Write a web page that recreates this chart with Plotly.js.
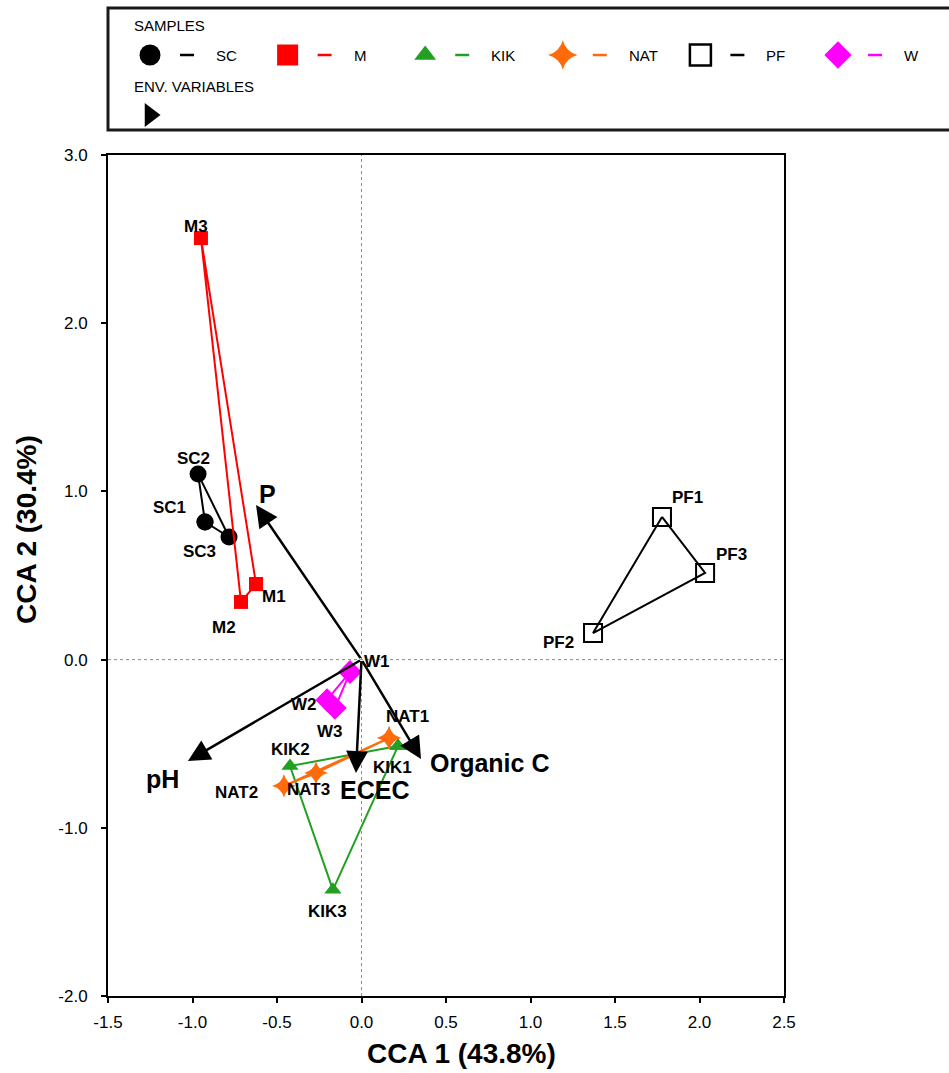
<!DOCTYPE html>
<html>
<head>
<meta charset="utf-8">
<script src="https://cdn.plot.ly/plotly-3.0.1.min.js"></script>
<style>
  html, body { margin: 0; padding: 0; background: #ffffff; }
  #chart { width: 949px; height: 1073px; }
</style>
</head>
<body>
<div id="chart"></div>
<script>
// ---- Sample scores on CCA axes 1 and 2 ----
const scLabels  = ['SC1', 'SC2', 'SC3'];
const scX       = [-0.926, -0.967, -0.784];
const scY       = [0.818, 1.103, 0.729];

const mLabels   = ['M1', 'M2', 'M3'];
const mX        = [-0.624, -0.713, -0.950];
const mY        = [0.449, 0.343, 2.506];

const kikLabels = ['KIK1', 'KIK2', 'KIK3'];
const kikX      = [0.216, -0.423, -0.169];
const kikY      = [-0.514, -0.633, -1.369];

const natLabels = ['NAT1', 'NAT2', 'NAT3'];
const natX      = [0.163, -0.459, -0.269];
const natY      = [-0.466, -0.751, -0.674];

const pfLabels  = ['PF1', 'PF2', 'PF3'];
const pfX       = [1.778, 1.370, 2.033];
const pfY       = [0.848, 0.158, 0.515];

const wLabels   = ['W1', 'W2', 'W3'];
const wX        = [-0.068, -0.204, -0.157];
const wY        = [-0.074, -0.240, -0.288];

// ---- Environmental variable vectors (from the origin) ----
const envNames  = ['P', 'pH', 'ECEC', 'Organic C'];
const envX      = [-0.624, -1.027, -0.033, 0.352];
const envY      = [0.919, -0.603, -0.674, -0.591];

// ---- Axis labels and ticks ----
const xTitle = 'CCA 1 (43.8%)';
const yTitle = 'CCA 2 (30.4%)';
const xTickVals = [-1.5, -1.0, -0.5, 0.0, 0.5, 1.0, 1.5, 2.0, 2.5];
const xTickText = ['-1.5', '-1.0', '-0.5', '0.0', '0.5', '1.0', '1.5', '2.0', '2.5'];
const yTickVals = [-2.0, -1.0, 0.0, 1.0, 2.0, 3.0];
const yTickText = ['-2.0', '-1.0', '0.0', '1.0', '2.0', '3.0'];
const groupNames = ['SC', 'M', 'KIK', 'NAT', 'PF', 'W'];

// ---- Styling ----
const FONT = 'Arial, "Liberation Sans", sans-serif';
const W = 949, H = 1073;
const plotBox = { left: 108, right: 784, top: 155, bottom: 996 };

const groups = [
  { name: 'SC',  lab: scLabels,  x: scX,  y: scY,  color: '#000000', symbol: 'circle',       size: 17, legSize: 21 },
  { name: 'M',   lab: mLabels,   x: mX,   y: mY,   color: '#ff0000', symbol: 'square',       size: 14, legSize: 21 },
  { name: 'KIK', lab: kikLabels, x: kikX, y: kikY, color: '#22a022', symbol: 'triangle-up',  size: 15, legSize: 19 },
  { name: 'NAT', lab: natLabels, x: natX, y: natY, color: '#ff6a0a', symbol: 'star-diamond', size: 17, legSize: 21 },
  { name: 'PF',  lab: pfLabels,  x: pfX,  y: pfY,  color: '#000000', symbol: 'square-open',  size: 18, legSize: 21 },
  { name: 'W',   lab: wLabels,   x: wX,   y: wY,   color: '#ff00ff', symbol: 'diamond',      size: 18, legSize: 21 }
];

// label placement (pixel shifts from each point)
const labelShift = {
  SC1: [-36, 15], SC2: [-5, 16], SC3: [-30, -15],
  M1: [18, -12], M2: [-17, -26], M3: [-5, 12],
  KIK1: [-6, -21], KIK2: [0, 17], KIK3: [-5, -22],
  NAT1: [18, 21], NAT2: [-47, -7], NAT3: [-8, -17],
  PF1: [26, 19], PF2: [-35, -9], PF3: [26, 18],
  W1: [27, 11], W2: [-23, -5], W3: [-5, -23]
};
const envShift = { 'P': [11, 11], 'pH': [-25, -18], 'ECEC': [19, -17], 'Organic C': [69, -4] };

const traces = [];
const annotations = [];
const shapes = [];

// closed polygons joining the three replicates of each site
groups.forEach(g => {
  const isOpen = g.symbol.endsWith('-open');
  traces.push({
    type: 'scatter', mode: 'lines+markers', name: g.name,
    x: g.x.concat([g.x[0]]), y: g.y.concat([g.y[0]]),
    xaxis: 'x', yaxis: 'y',
    line: { color: g.color, width: 2 },
    marker: {
      symbol: g.symbol, size: g.size, color: g.color, opacity: 1,
      line: { color: g.color, width: isOpen ? 2 : 0 }
    },
    hoverinfo: 'skip', cliponaxis: false
  });
  g.lab.forEach((t, i) => {
    const s = labelShift[t] || [0, 0];
    annotations.push({
      xref: 'x', yref: 'y', x: g.x[i], y: g.y[i], text: t, showarrow: false,
      xshift: s[0], yshift: s[1],
      font: { family: FONT, size: 17, color: '#000000', weight: 'bold' }
    });
  });
});

// environmental arrows
envNames.forEach((n, i) => {
  annotations.push({
    xref: 'x', yref: 'y', axref: 'x', ayref: 'y',
    x: envX[i], y: envY[i], ax: 0, ay: 0, text: '',
    showarrow: true, arrowhead: 2, arrowsize: 1.75, arrowwidth: 2.5,
    arrowcolor: '#000000', standoff: 0, startstandoff: 0
  });
  const s = envShift[n];
  annotations.push({
    xref: 'x', yref: 'y', x: envX[i], y: envY[i], text: n, showarrow: false,
    xshift: s[0], yshift: s[1],
    font: { family: FONT, size: 25, color: '#000000', weight: 'bold' }
  });
});

// dotted reference lines through the origin
shapes.push({ type: 'line', xref: 'x', yref: 'y', x0: 0, x1: 0, y0: -2, y1: 3,
  line: { color: '#8c8c8c', width: 1, dash: 'dot' }, layer: 'below' });
shapes.push({ type: 'line', xref: 'x', yref: 'y', x0: -1.5, x1: 2.5, y0: 0, y1: 0,
  line: { color: '#8c8c8c', width: 1, dash: 'dot' }, layer: 'below' });

// ---- Key box above the plot (drawn on a pixel-scaled helper axis pair) ----
shapes.push({ type: 'rect', xref: 'x2', yref: 'y2', x0: 108, x1: 960, y0: 8, y1: 130,
  line: { color: '#1a1a1a', width: 3 }, fillcolor: 'rgba(0,0,0,0)' });

const keyFont = { family: FONT, size: 15, color: '#000000' };
annotations.push({ xref: 'x2', yref: 'y2', x: 132, y: 25, text: 'SAMPLES', showarrow: false,
  xanchor: 'left', yanchor: 'middle', font: keyFont });
annotations.push({ xref: 'x2', yref: 'y2', x: 132, y: 86, text: 'ENV. VARIABLES', showarrow: false,
  xanchor: 'left', yanchor: 'middle', font: keyFont });

const keyX = [], keyY = [], keySym = [], keyCol = [], keySize = [], keyLineW = [];
groups.forEach((g, i) => {
  const cx = 150 + i * 137.6, cy = 55;
  const isOpen = g.symbol.endsWith('-open');
  keyX.push(cx); keyY.push(cy); keySym.push(g.symbol); keyCol.push(g.color);
  keySize.push(g.legSize); keyLineW.push(isOpen ? 2.5 : 0);
  shapes.push({ type: 'line', xref: 'x2', yref: 'y2', x0: cx + 30, x1: cx + 44, y0: cy, y1: cy,
    line: { color: g.color, width: 2.5 } });
  annotations.push({ xref: 'x2', yref: 'y2', x: cx + 64, y: cy, text: groupNames[i], showarrow: false,
    xanchor: 'left', yanchor: 'middle', font: keyFont });
});
keyX.push(150); keyY.push(115); keySym.push('triangle-right'); keyCol.push('#000000');
keySize.push(21); keyLineW.push(0);

traces.push({
  type: 'scatter', mode: 'markers', xaxis: 'x2', yaxis: 'y2', x: keyX, y: keyY,
  marker: { symbol: keySym, color: keyCol, size: keySize, opacity: 1,
            line: { color: keyCol, width: keyLineW } },
  hoverinfo: 'skip', cliponaxis: false, showlegend: false
});

// ---- Axis titles ----
annotations.push({ xref: 'paper', yref: 'paper', x: 461 / W, y: 1 - 1053 / H, text: xTitle,
  showarrow: false, xanchor: 'center', yanchor: 'middle',
  font: { family: FONT, size: 28, color: '#000000', weight: 'bold' } });
annotations.push({ xref: 'paper', yref: 'paper', x: 26 / W, y: 1 - 530 / H, text: yTitle,
  showarrow: false, xanchor: 'center', yanchor: 'middle', textangle: -90,
  font: { family: FONT, size: 28, color: '#000000', weight: 'bold' } });

const axisCommon = {
  showline: true, linecolor: '#000000', linewidth: 2, mirror: true,
  showgrid: false, zeroline: false,
  ticks: 'outside', ticklen: 5, tickwidth: 2, tickcolor: '#000000',
  tickfont: { family: FONT, size: 17, color: '#000000' },
  tickmode: 'array', fixedrange: true
};

const layout = {
  width: W, height: H,
  margin: { l: 0, r: 0, t: 0, b: 0, pad: 0 },
  paper_bgcolor: '#ffffff', plot_bgcolor: 'rgba(0,0,0,0)',
  showlegend: false,
  xaxis: Object.assign({}, axisCommon, {
    domain: [plotBox.left / W, plotBox.right / W],
    range: [-1.5, 2.5], tickvals: xTickVals, ticktext: xTickText,
    anchor: 'y', ticklabelstandoff: 5
  }),
  yaxis: Object.assign({}, axisCommon, {
    domain: [1 - plotBox.bottom / H, 1 - plotBox.top / H],
    range: [-2, 3], tickvals: yTickVals, ticktext: yTickText,
    anchor: 'x', ticklabelstandoff: 10
  }),
  xaxis2: { domain: [0, 1], range: [0, W], visible: false, anchor: 'y2', fixedrange: true },
  yaxis2: { domain: [0, 1], range: [H, 0], visible: false, anchor: 'x2', fixedrange: true },
  shapes: shapes,
  annotations: annotations
};

Plotly.newPlot('chart', traces, layout, { displayModeBar: false, staticPlot: true });
</script>
</body>
</html>
